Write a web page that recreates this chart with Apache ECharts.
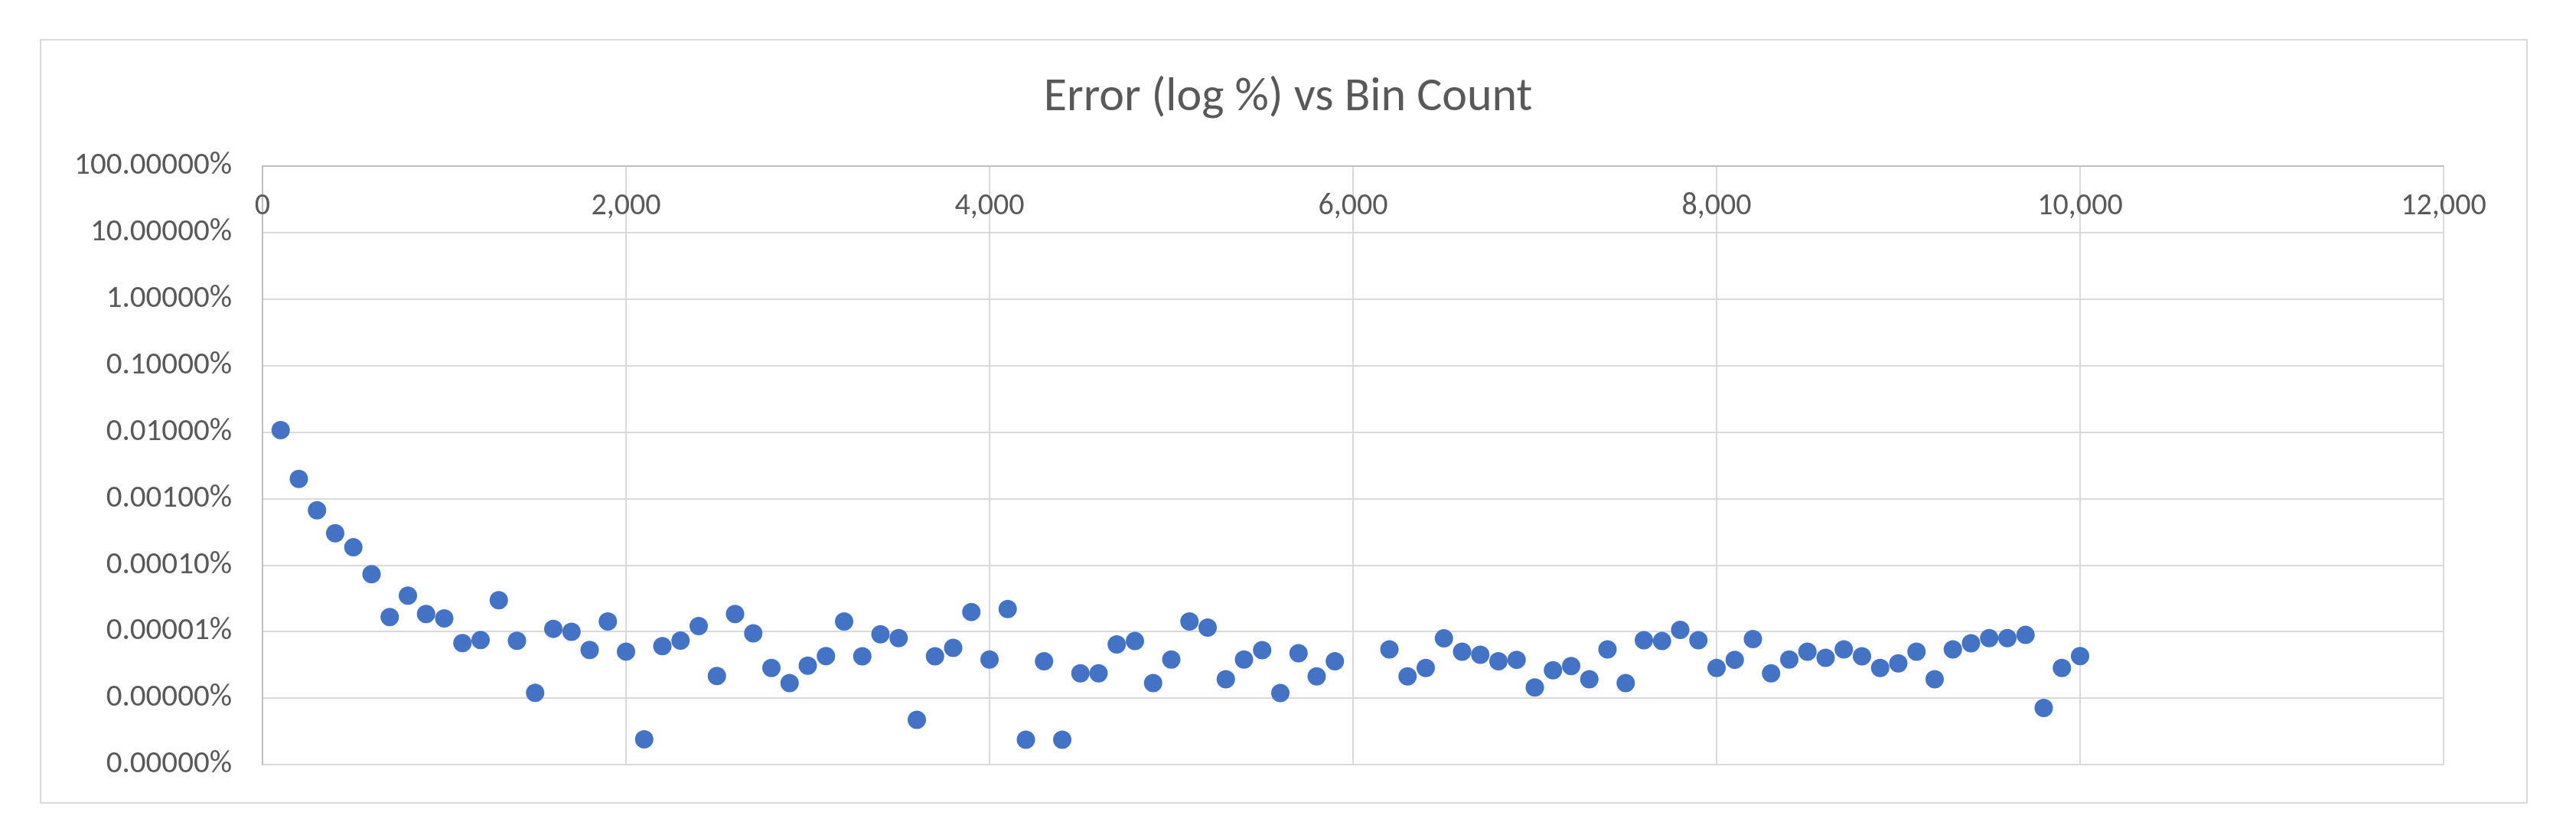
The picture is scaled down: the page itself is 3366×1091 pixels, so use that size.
<!DOCTYPE html>
<html>
<head>
<meta charset="utf-8">
<title>Error (log %) vs Bin Count</title>
<script src="https://cdn.jsdelivr.net/npm/echarts@6/dist/echarts.min.js"></script>
<style>
  html, body { margin: 0; padding: 0; background: #fff; }
  #wrap { position: relative; width: 3366px; height: 1091px; }
  #frame {
    position: absolute; left: 52px; top: 51px; width: 3247px; height: 995px;
    border: 2px solid #d9d9d9;
  }
  #chart { position: absolute; left: 0; top: 0; width: 3366px; height: 1091px; }
</style>
</head>
<body>
<div id="wrap">
  <div id="frame"></div>
  <div id="chart"></div>
</div>
<script>
// bin counts (x) and relative error as a fraction (y, shown as %)
var binCounts = [
  100, 200, 300, 400, 500, 600, 700, 800, 900, 1000,
  1100, 1200, 1300, 1400, 1500, 1600, 1700, 1800, 1900, 2000,
  2100, 2200, 2300, 2400, 2500, 2600, 2700, 2800, 2900, 3000,
  3100, 3200, 3300, 3400, 3500, 3600, 3700, 3800, 3900, 4000,
  4100, 4200, 4300, 4400, 4500, 4600, 4700, 4800, 4900, 5000,
  5100, 5200, 5300, 5400, 5500, 5600, 5700, 5800, 5900,
  6200, 6300, 6400, 6500, 6600, 6700, 6800, 6900, 7000,
  7100, 7200, 7300, 7400, 7500, 7600, 7700, 7800, 7900, 8000,
  8100, 8200, 8300, 8400, 8500, 8600, 8700, 8800, 8900, 9000,
  9100, 9200, 9300, 9400, 9500, 9600, 9700, 9800, 9900, 10000
];
var errors = [
  1.07e-4, 1.97e-5, 6.67e-6, 3.01e-6, 1.85e-6, 7.28e-7, 1.65e-7, 3.47e-7, 1.84e-7, 1.58e-7,
  6.73e-8, 7.48e-8, 2.96e-7, 7.28e-8, 1.2e-8, 1.10e-7, 9.9e-8, 5.3e-8, 1.42e-7, 5.0e-8,
  2.4e-9, 6.05e-8, 7.3e-8, 1.21e-7, 2.15e-8, 1.84e-7, 9.4e-8, 2.83e-8, 1.68e-8, 3.07e-8,
  4.29e-8, 1.42e-7, 4.25e-8, 9.1e-8, 8.0e-8, 4.7e-9, 4.25e-8, 5.7e-8, 1.97e-7, 3.79e-8,
  2.19e-7, 2.37e-9, 3.57e-8, 2.37e-9, 2.36e-8, 2.36e-8, 6.4e-8, 7.2e-8, 1.68e-8, 3.8e-8,
  1.42e-7, 1.15e-7, 1.92e-8, 3.79e-8, 5.25e-8, 1.19e-8, 4.72e-8, 2.12e-8, 3.57e-8,
  5.4e-8, 2.12e-8, 2.83e-8, 7.9e-8, 4.98e-8, 4.48e-8, 3.57e-8, 3.76e-8, 1.44e-8,
  2.62e-8, 3.04e-8, 1.92e-8, 5.4e-8, 1.68e-8, 7.4e-8, 7.2e-8, 1.06e-7, 7.4e-8, 2.83e-8,
  3.76e-8, 7.7e-8, 2.36e-8, 3.79e-8, 4.98e-8, 4.03e-8, 5.4e-8, 4.25e-8, 2.83e-8, 3.32e-8,
  4.98e-8, 1.92e-8, 5.4e-8, 6.67e-8, 8.0e-8, 8.0e-8, 8.9e-8, 7.1e-9, 2.83e-8, 4.29e-8
];
var xTicks = { min: 0, max: 12000, step: 2000 };
var yRange = { min: 1e-9, max: 1 };

var points = binCounts.map(function (b, i) { return [b, errors[i]]; });

var font = "'Liberation Sans Narrow', Carlito, 'DejaVu Sans Condensed', sans-serif";
var chart = echarts.init(document.getElementById("chart"));
chart.setOption({
  backgroundColor: "transparent",
  animation: false,
  title: {
    text: "Error (log %) vs Bin Count",
    left: "center",
    top: 92,
    textStyle: { fontFamily: font, fontSize: 62, fontWeight: "normal", color: "#595959" }
  },
  grid: { left: 343, right: 173, top: 217, bottom: 92, containLabel: false },
  xAxis: {
    type: "value",
    position: "top",
    min: xTicks.min,
    max: xTicks.max,
    interval: xTicks.step,
    axisLine: { show: true, lineStyle: { color: "#bfbfbf", width: 2 } },
    axisTick: { show: false },
    splitLine: { show: true, lineStyle: { color: "#d9d9d9", width: 2 } },
    axisLabel: {
      inside: true,
      margin: 33,
      fontFamily: font,
      fontSize: 40,
      color: "#595959",
      formatter: function (v) { return v.toLocaleString("en-US"); }
    }
  },
  yAxis: {
    type: "log",
    logBase: 10,
    min: yRange.min,
    max: yRange.max,
    axisLine: { show: true, onZero: false, lineStyle: { color: "#bfbfbf", width: 2 } },
    axisTick: { show: false },
    splitLine: { show: true, lineStyle: { color: "#d9d9d9", width: 2 } },
    axisLabel: {
      margin: 40,
      fontFamily: font,
      fontSize: 41,
      color: "#595959",
      formatter: function (v) { return (v * 100).toFixed(5) + "%"; }
    }
  },
  series: [
    {
      type: "scatter",
      data: points,
      symbol: "circle",
      symbolSize: 24,
      itemStyle: { color: "#4472c4", opacity: 1 }
    }
  ]
});
</script>
</body>
</html>
